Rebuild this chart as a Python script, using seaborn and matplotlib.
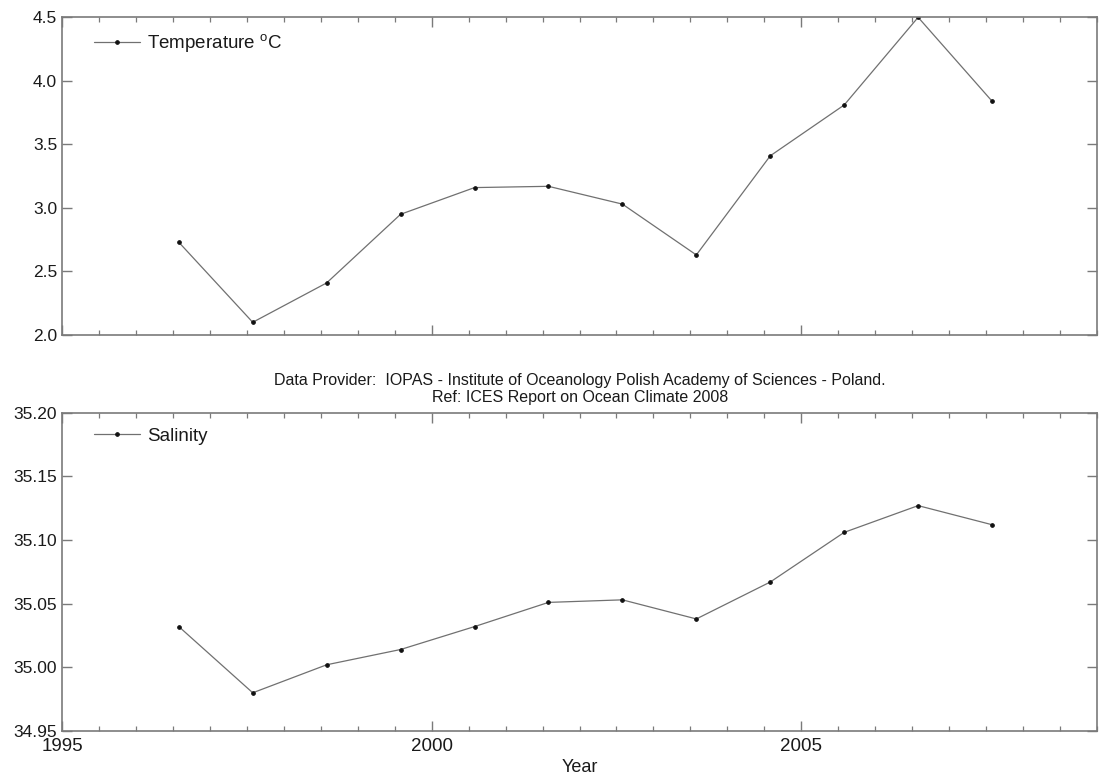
import matplotlib
matplotlib.use("Agg")
import matplotlib.pyplot as plt
import seaborn as sns
import pandas as pd
from matplotlib.ticker import MultipleLocator, FormatStrFormatter

years = [1996.58, 1997.58, 1998.58, 1999.58, 2000.58, 2001.58,
         2002.58, 2003.58, 2004.58, 2005.58, 2006.58, 2007.58]
temperature = [2.73, 2.10, 2.41, 2.95, 3.16, 3.17, 3.03, 2.63, 3.41, 3.81, 4.50, 3.84]
salinity = [35.032, 34.980, 35.002, 35.014, 35.032, 35.051, 35.053, 35.038,
            35.067, 35.106, 35.127, 35.112]

sns.set_style("ticks")
plt.rcParams['font.family'] = ['Liberation Sans', 'DejaVu Sans']
plt.rcParams['mathtext.default'] = 'regular'

df = pd.DataFrame({"Year": years, "Temperature": temperature, "Salinity": salinity})

fig = plt.figure(figsize=(11.05, 7.76), dpi=100)
ax1 = fig.add_axes([0.0561, 0.5683, 0.9367, 0.4094])
ax2 = fig.add_axes([0.0561, 0.0580, 0.9367, 0.4102])

spine_col = '#7a7a7a'
line_col = '#707070'

def style(ax):
    for s in ax.spines.values():
        s.set_visible(True)
        s.set_color(spine_col)
        s.set_linewidth(1.2)
    ax.set_xlim(1995, 2009)
    ax.xaxis.set_major_locator(MultipleLocator(5))
    ax.xaxis.set_minor_locator(MultipleLocator(0.5))
    ax.tick_params(axis='both', which='major', direction='in', length=7.5, width=1,
                   color=spine_col, labelsize=12.5, labelcolor='#1a1a1a',
                   top=True, right=True)
    ax.tick_params(axis='x', which='major', labelsize=13.5, pad=5)
    ax.tick_params(axis='x', which='minor', direction='in', length=3.8, width=0.9,
                   color=spine_col, top=True, bottom=True)
    ax.set_ylabel('')

sns.lineplot(data=df, x="Year", y="Temperature", ax=ax1, color=line_col, linewidth=0.9,
             marker='o', markersize=2.6, markerfacecolor='#111111', markeredgecolor='#111111',
             label='Temperature $^{o}$C')
sns.lineplot(data=df, x="Year", y="Salinity", ax=ax2, color=line_col, linewidth=0.9,
             marker='o', markersize=2.6, markerfacecolor='#111111', markeredgecolor='#111111',
             label='Salinity')

style(ax1)
style(ax2)

ax1.set_ylim(2.0, 4.5)
ax1.yaxis.set_major_locator(MultipleLocator(0.5))
ax1.yaxis.set_major_formatter(FormatStrFormatter('%.1f'))
ax1.set_xlabel('')
ax1.tick_params(axis='x', labelbottom=False)

ax2.set_ylim(34.95, 35.20)
ax2.yaxis.set_major_locator(MultipleLocator(0.05))
ax2.yaxis.set_major_formatter(FormatStrFormatter('%.2f'))
ax2.set_xlabel('Year', fontsize=13, color='#1a1a1a', labelpad=3)

for ax in (ax1, ax2):
    leg = ax.legend(loc='upper left', bbox_to_anchor=(0.024, 0.976), frameon=False,
                    fontsize=13.5, handlelength=2.45, handletextpad=0.35, borderaxespad=0)
    for t in leg.get_texts():
        t.set_color('#1a1a1a')

fig.text(0.525, 0.510, 'Data Provider:  IOPAS - Institute of Oceanology Polish Academy of Sciences - Poland.',
         ha='center', va='center', fontsize=11.5, color='#1a1a1a')
fig.text(0.525, 0.488, 'Ref: ICES Report on Ocean Climate 2008',
         ha='center', va='center', fontsize=11.5, color='#1a1a1a')

fig.savefig('out.png', dpi=100)
